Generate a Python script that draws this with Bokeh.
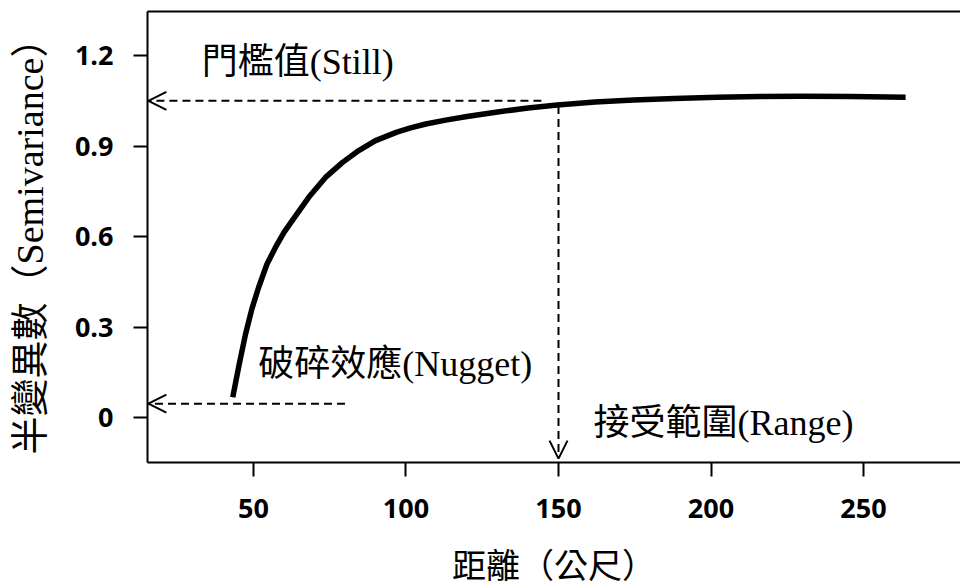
from bokeh.plotting import figure
from bokeh.models import Range1d, FixedTicker, LinearAxis, Arrow, OpenHead, Label
from bokeh.embed import file_html
from bokeh.resources import INLINE

# Semivariogram curve: lag distance (m) vs semivariance
distance_m = [43.2, 45.3, 47.4, 49.5, 51.7, 54.4, 57.2, 60.0, 62.7, 68.1, 73.6, 79.1,
              84.5, 90.0, 97.0, 101.5, 106.5, 113.0, 120.0, 130.0, 140.0, 149.6,
              162.0, 174.6, 188.0, 202.0, 216.0, 229.3, 246.0, 263.8]
semivariance = [0.067, 0.176, 0.277, 0.361, 0.432, 0.508, 0.564, 0.614, 0.653, 0.730, 0.796, 0.845,
                0.885, 0.918, 0.946, 0.960, 0.973, 0.986, 0.998, 1.013, 1.026, 1.036,
                1.046, 1.053, 1.058, 1.062, 1.064, 1.065, 1.064, 1.062]

# Model parameters marked on the chart
sill = 1.05
nugget = 0.046
range_m = 150

x_ticks = [50, 100, 150, 200, 250]
y_ticks = [0, 0.3, 0.6, 0.9, 1.2]
y_tick_labels = ["0", "0.3", "0.6", "0.9", "1.2"]

x_title = "距離（公尺）"
y_title = "半變異數（Semivariance）"
sill_text = "門檻值(Still)"
nugget_text = "破碎效應(Nugget)"
range_text = "接受範圍(Range)"

X0, X1 = 15.25, 281.8
Y0, Y1 = -0.149, 1.346

SERIF = "Liberation Serif, Noto Sans CJK TC"
TICK_FONT = "Open Sans"

p = figure(width=960, height=588, output_backend="svg", toolbar_location=None,
           title=None, x_range=Range1d(X0, X1), y_range=Range1d(Y0, Y1),
           min_border_left=147, min_border_right=0, min_border_top=11,
           min_border_bottom=126, x_axis_label=x_title, y_axis_label=y_title)
p.outline_line_color = None
p.grid.visible = False
p.background_fill_color = "white"
p.border_fill_color = "white"

p.xaxis.ticker = FixedTicker(ticks=x_ticks)
p.yaxis.ticker = FixedTicker(ticks=y_ticks)
p.yaxis.major_label_overrides = {t: s for t, s in zip(y_ticks, y_tick_labels)}

for ax in (p.xaxis[0], p.yaxis[0]):
    ax.axis_line_width = 2
    ax.axis_line_color = "black"
    ax.major_tick_line_width = 2
    ax.major_tick_line_color = "black"
    ax.major_tick_in = 0
    ax.major_tick_out = 14
    ax.minor_tick_line_color = None
    ax.major_label_text_font = TICK_FONT
    ax.major_label_text_font_style = "bold"
    ax.major_label_text_font_size = "27px"
    ax.major_label_text_color = "black"
    ax.axis_label_text_font = SERIF
    ax.axis_label_text_font_style = "normal"
    ax.axis_label_text_color = "black"
p.xaxis.major_label_standoff = 22
p.yaxis.major_label_standoff = 20
p.xaxis.axis_label_text_font_size = "34px"
p.yaxis.axis_label_text_font_size = "38px"
p.xaxis.axis_label_standoff = 27
p.yaxis.axis_label_standoff = 21

# top border of the frame (the right side stays open)
top = LinearAxis(ticker=FixedTicker(ticks=[]), axis_line_width=2,
                 axis_line_color="black", major_tick_line_color=None,
                 minor_tick_line_color=None, major_label_text_font_size="0px",
                 major_label_standoff=0)
p.add_layout(top, "above")

# semivariogram curve
p.line(distance_m, semivariance, line_width=5.5, line_color="black", line_join="round")

# dashed guides with open arrow heads
def guide(xs, ys, xe, ye):
    p.add_layout(Arrow(end=OpenHead(size=18, line_width=2, line_color="black"),
                       x_start=xs, y_start=ys, x_end=xe, y_end=ye,
                       line_dash="8 5", line_width=2, line_color="black"))

guide(144.4, sill, X0 + 0.3, sill)
guide(80.0, nugget, X0 + 0.3, nugget)
guide(range_m, 1.033, range_m, -0.136)

def note(x, y, text):
    p.add_layout(Label(x=x, y=y, text=text, text_font=SERIF, text_font_size="36px",
                       text_color="black", text_baseline="middle", text_align="left"))

note(33.0, 1.18, sill_text)
note(51.6, 0.176, nugget_text)
note(161.5, -0.017, range_text)

open("out.html", "w").write(file_html(p, INLINE))
